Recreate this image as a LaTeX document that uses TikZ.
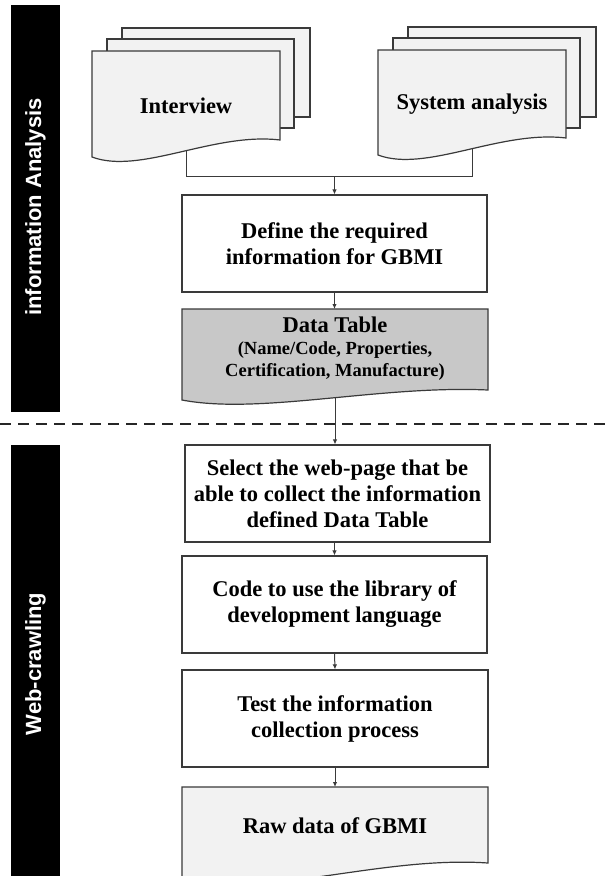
\documentclass[tikz,border=0pt]{standalone}
\usepackage{fontspec}
\setmainfont{Liberation Serif}
\newfontfamily\barfont{Liberation Sans}
\usetikzlibrary{arrows.meta,backgrounds}
\definecolor{lineg}{HTML}{3A3A3A}
\definecolor{sheet}{HTML}{F2F2F2}
\definecolor{dtfill}{HTML}{C8C8C8}
\tikzset{
  stepbox/.style={draw=lineg, line width=1.2pt, fill=white, minimum width=305pt,
    minimum height=97pt, align=center, inner sep=0pt,
    font=\bfseries\fontsize{22.5}{26}\selectfont},
  doctext/.style={align=center, inner sep=0pt, font=\bfseries\fontsize{22.5}{26}\selectfont},
  docshape/.style={draw=lineg, line width=1.2pt, fill=sheet},
  conn/.style={draw=lineg, line width=1pt},
  arr/.style={conn, -{Latex[length=5pt,width=4.5pt]}},
  barlabel/.style={rotate=90, text=white, inner sep=0pt,
    font=\barfont\bfseries\fontsize{22}{26}\selectfont},
  sep/.style={draw=black!85, line width=1.8pt, dash pattern=on 11pt off 7pt}
}
\begin{document}
\begin{tikzpicture}[x=1pt,y=-1pt]
\useasboundingbox (0,0) rectangle (605,876);
\clip (0,0) rectangle (605,876);
\begin{pgfonlayer}{background}
\fill[white] (0,0) rectangle (605,876);
\end{pgfonlayer}

% side bars
\fill[black] (11,5) rectangle (60,412);
\fill[black] (11,445) rectangle (60,890);
\node[barlabel] (labA) at (35.5,207) {information Analysis};
\node[barlabel] (labW) at (35.5,664) {Web-crawling};

% separator
\draw[sep] (0,424) -- (605,424);

% Interview stack
\draw[docshape] (122,28) rectangle (310,117);
\draw[docshape] (107,39) rectangle (294,128);
\draw[docshape] (92,51) -- (280,51) -- (280,140) .. controls (214,132) and (140,175) .. (92,157) -- cycle;
\node[doctext] (interview) at (186,106) {Interview};
\coordinate (ib) at (186,148);

% System analysis stack
\draw[docshape] (408,27) rectangle (596,117);
\draw[docshape] (393,38) rectangle (580,128);
\draw[docshape] (378,50) -- (566,50) -- (566,138) .. controls (500,130) and (426,173) .. (378,155) -- cycle;
\node[doctext] (system) at (472,104) {System analysis};
\coordinate (sb) at (472,146);

\coordinate (join) at (334.5,176);

% define box
\node[stepbox] (define) at (334.5,243.5) {Define the required\\information for GBMI};

% data table
\draw[docshape, fill=dtfill] (182,309) -- (488,309) -- (488,390) .. controls (380,385) and (260,415) .. (182,400) -- cycle;
\coordinate (dttop) at (334.5,309);
\coordinate (dtbot) at (335,396);
\node[align=center, inner sep=0pt, font=\bfseries\fontsize{22.5}{22}\selectfont] (datatable) at (335,349)
  {Data Table\\\fontsize{18.5}{22}\selectfont (Name/Code, Properties,\\\fontsize{18.5}{22}\selectfont Certification, Manufacture)};

% web-crawling steps
\node[stepbox, minimum width=305pt] (select) at (337.5,493.5) {Select the web-page that be\\able to collect the information\\defined Data Table};
\node[stepbox] (code) at (334.5,604.5) {Code to use the library of\\development language};
\node[stepbox, minimum width=306pt] (test) at (335,718.5) {Test the information\\collection process};

% raw data
\draw[docshape] (182,787) -- (488,787) -- (488,863) .. controls (380,855.5) and (260,900.5) .. (182,878) -- cycle;
\coordinate (rawtop) at (335,787);
\node[doctext] (raw) at (335,826) {Raw data of GBMI};

% connectors
\begin{pgfonlayer}{background}
\draw[conn] (ib) |- (join);
\draw[conn] (sb) |- (join);
\draw[conn] (dtbot) -- (dtbot |- 0,430);
\end{pgfonlayer}
\draw[arr] (join) -- (define.north);
\draw[arr] (define.south) -- (dttop);
\draw[arr] (dtbot |- 0,425) -- (dtbot |- select.north);
\draw[arr] (code.north |- select.south) -- (code.north);
\draw[arr] (code.south) -- (test.north);
\draw[arr] (test.south) -- (rawtop);
\end{tikzpicture}
\end{document}
